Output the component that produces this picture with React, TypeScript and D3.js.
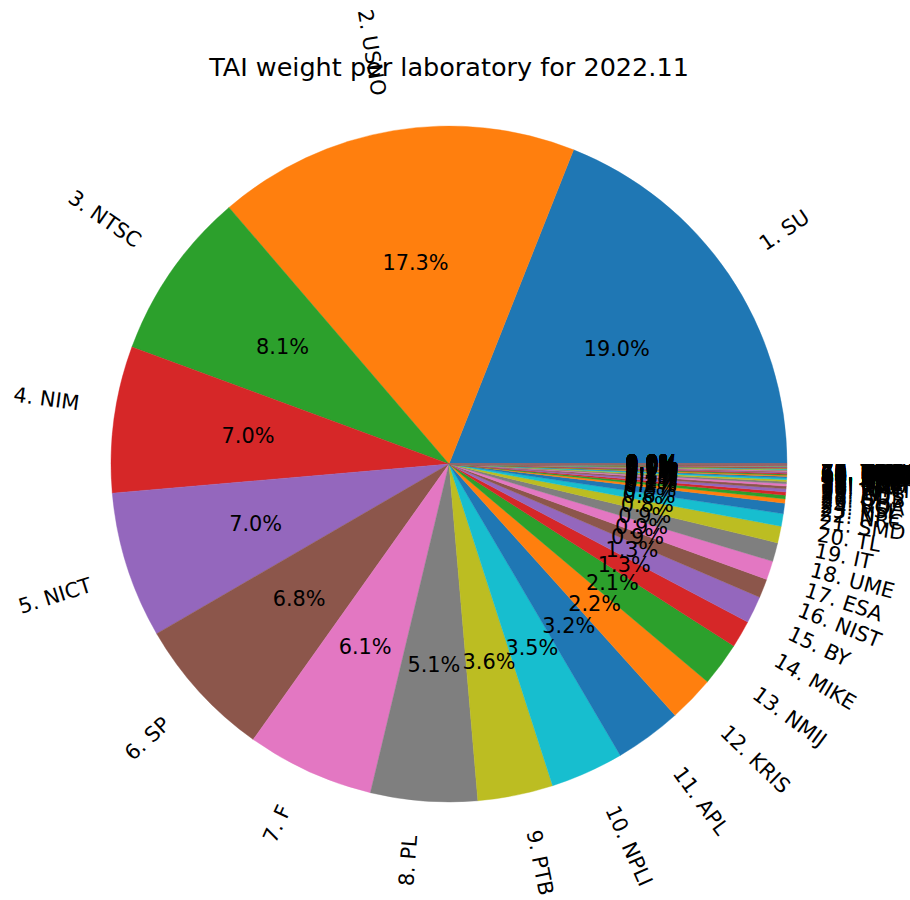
import * as d3 from "d3";

// laboratories ranked by TAI weight (%), 2022.11
const labs = [
  "SU", "USNO", "NTSC", "NIM", "NICT", "SP", "F", "PL", "PTB", "NPLI",
  "APL", "KRIS", "NMIJ", "MIKE", "BY", "NIST", "ESA", "UME", "IT", "TL",
  "SMD", "NRC", "NPL", "VSL", "ROA", "CH", "ORB", "AOS", "LT", "TP",
  "NIMT", "INTI", "NAO", "CNM", "BEV", "DLR", "NRL", "KIM", "ZA", "IFAG",
  "NMLS", "AUS", "BIM", "BIRM", "CAO", "CNES", "CNMP", "DMDM", "DTAG", "EIM",
  "ESTC", "GUM", "HKO", "INCP", "INXE", "IPQ", "JATC", "JV", "KEBS", "KZ",
  "MASM", "MBM", "MKEH", "MSL", "NIMB", "NIS", "ONBA", "ONRJ", "SCL", "SG",
  "SIQ", "SMU", "TCC", "UA", "VMI",
];

const weights = [
  19.0, 17.3, 8.1, 7.0, 7.0, 6.8, 6.1, 5.1, 3.6, 3.5,
  3.2, 2.2, 2.1, 1.3, 1.3, 0.9, 0.9, 0.9, 0.8, 0.6,
  0.5, 0.2, 0.18, 0.15, 0.15, 0.13, 0.11, 0.1, 0.09, 0.08,
  0.07, 0.06, 0.05, 0.05, 0.04, 0.04, 0.035, 0.03, 0.03, 0.025,
  0.02, 0.02, 0.018, 0.016, 0.015, 0.014, 0.012, 0.011, 0.01, 0.01,
  0.009, 0.008, 0.008, 0.007, 0.006, 0.006, 0.005, 0.005, 0.004, 0.004,
  0.003, 0.003, 0.003, 0.002, 0.002, 0.002, 0.001, 0.001, 0.001, 0.001,
  0.001, 0.001, 0.0005, 0.0005, 0.0005,
];

const title = "TAI weight per laboratory for 2022.11";

const W = 910;
const H = 900;
const cx = 449;
const cy = 464;
const R = 338;
const FS = 20.83;
const FONT = "DejaVu Sans, sans-serif";

let ctx: CanvasRenderingContext2D | null = null;
function textWidth(s: string) {
  if (!ctx) ctx = document.createElement("canvas").getContext("2d");
  if (!ctx) return s.length * FS * 0.6;
  ctx.font = `${FS}px "DejaVu Sans"`;
  return ctx.measureText(s).width;
}

export default function App() {
  const pie = d3
    .pie<number>()
    .sort(null)
    .value((d) => d)
    .startAngle(Math.PI / 2)
    .endAngle(Math.PI / 2 - 2 * Math.PI);
  const arcs = pie(weights);
  const arc = d3
    .arc<d3.PieArcDatum<number>>()
    .innerRadius(0)
    .outerRadius(R);
  const total = d3.sum(weights);
  const color = (i: number) => d3.schemeCategory10[i % 10];

  return (
    <svg
      width={W}
      height={H}
      style={{ position: "absolute", left: 0, top: 0, background: "#fff" }}
      fontFamily={FONT}
    >
      <g transform={`translate(${cx},${cy})`}>
        {arcs.map((a, i) => (
          <path
            key={i}
            d={arc(a) ?? ""}
            fill={color(i)}
            stroke={color(i)}
            strokeWidth={0.4}
          />
        ))}
      </g>
      {arcs.map((a, i) => {
        // d3 angle (clockwise from north) -> math angle (ccw from east)
        const mid = (a.startAngle + a.endAngle) / 2;
        const th = Math.PI / 2 - mid;
        const xt = cx + 1.1 * R * Math.cos(th);
        const yt = cy - 1.1 * R * Math.sin(th);
        const right = Math.cos(th) > 0;
        const upper = Math.sin(th) > 0;
        const rot = (th * 180) / Math.PI + (right ? 0 : 180);
        const rr = (rot * Math.PI) / 180;
        const label = `${i + 1}. ${labs[i]}`;
        const w = textWidth(label);
        const h = FS * 0.97;
        const bw = w * Math.abs(Math.cos(rr)) + h * Math.abs(Math.sin(rr));
        const bh = w * Math.abs(Math.sin(rr)) + h * Math.abs(Math.cos(rr));
        const lx = right ? xt + bw / 2 : xt - bw / 2;
        const ly = upper ? yt - bh / 2 : yt + bh / 2;
        const px = cx + 0.6 * R * Math.cos(th);
        const py = cy - 0.6 * R * Math.sin(th);
        const pct = ((a.value / total) * 100).toFixed(1) + "%";
        return (
          <g key={i}>
            <text
              transform={`translate(${lx},${ly}) rotate(${-rot})`}
              textAnchor="middle"
              dy="0.28em"
              fontSize={FS}
              fill="#000"
            >
              {label}
            </text>
            <text
              x={px}
              y={py}
              textAnchor="middle"
              dy="0.28em"
              fontSize={FS}
              fill="#000"
            >
              {pct}
            </text>
          </g>
        );
      })}
      <text x={cx} y={76} textAnchor="middle" fontSize={25.5} fill="#000">
        {title}
      </text>
    </svg>
  );
}
